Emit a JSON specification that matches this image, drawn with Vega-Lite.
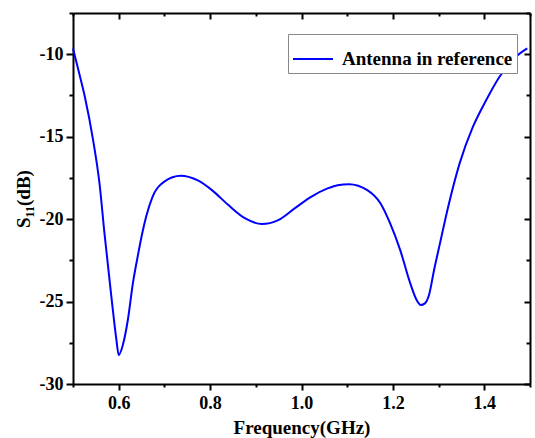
{
  "$schema": "https://vega.github.io/schema/vega-lite/v6.json",
  "width": 457,
  "height": 371,
  "autosize": "none",
  "padding": {"left": 73, "top": 13, "right": 5, "bottom": 54},
  "background": "white",
  "config": {
    "view": {"stroke": null},
    "font": "Liberation Serif",
    "axis": {
      "domainColor": "black", "domainWidth": 2, "tickColor": "black", "tickWidth": 2,
      "labelFont": "Liberation Serif", "labelFontWeight": "bold", "labelColor": "black",
      "titleFont": "Liberation Serif", "titleFontWeight": "bold", "titleColor": "black",
      "grid": false
    }
  },
  "data": {"values": [
    {"f": 0.500, "s": -9.65},
    {"f": 0.513, "s": -11.1},
    {"f": 0.526, "s": -12.59},
    {"f": 0.544, "s": -15.21},
    {"f": 0.558, "s": -17.84},
    {"f": 0.569, "s": -20.9},
    {"f": 0.584, "s": -24.71},
    {"f": 0.595, "s": -27.33},
    {"f": 0.600, "s": -28.24},
    {"f": 0.609, "s": -27.64},
    {"f": 0.620, "s": -26.12},
    {"f": 0.631, "s": -23.9},
    {"f": 0.642, "s": -22.2},
    {"f": 0.652, "s": -20.8},
    {"f": 0.660, "s": -19.86},
    {"f": 0.674, "s": -18.65},
    {"f": 0.699, "s": -17.74},
    {"f": 0.736, "s": -17.37},
    {"f": 0.772, "s": -17.64},
    {"f": 0.804, "s": -18.24},
    {"f": 0.840, "s": -19.15},
    {"f": 0.877, "s": -19.96},
    {"f": 0.913, "s": -20.30},
    {"f": 0.949, "s": -20.06},
    {"f": 0.985, "s": -19.35},
    {"f": 1.021, "s": -18.65},
    {"f": 1.057, "s": -18.14},
    {"f": 1.079, "s": -17.94},
    {"f": 1.104, "s": -17.88},
    {"f": 1.144, "s": -18.24},
    {"f": 1.173, "s": -19.05},
    {"f": 1.194, "s": -20.26},
    {"f": 1.216, "s": -21.88},
    {"f": 1.238, "s": -23.90},
    {"f": 1.252, "s": -24.91},
    {"f": 1.261, "s": -25.21},
    {"f": 1.270, "s": -25.11},
    {"f": 1.279, "s": -24.6},
    {"f": 1.290, "s": -23.1},
    {"f": 1.303, "s": -21.47},
    {"f": 1.321, "s": -19.25},
    {"f": 1.346, "s": -16.62},
    {"f": 1.375, "s": -14.41},
    {"f": 1.404, "s": -12.79},
    {"f": 1.433, "s": -11.38},
    {"f": 1.469, "s": -10.16},
    {"f": 1.494, "s": -9.65}
  ]},
  "resolve": {"axis": {"x": "independent", "y": "independent"}},
  "layer": [
    {
      "mark": {"type": "line", "opacity": 0},
      "encoding": {
        "x": {"field": "f", "type": "quantitative", "scale": {"domain": [0.5, 1.5], "nice": false, "zero": false},
          "axis": {"orient": "bottom", "values": [0.5, 0.7, 0.9, 1.1, 1.3, 1.5], "tickSize": 3, "labels": false, "domain": false, "title": null}},
        "y": {"field": "s", "type": "quantitative", "scale": {"domain": [-30, -7.5], "nice": false, "zero": false},
          "axis": {"orient": "left", "values": [-27.5, -22.5, -17.5, -12.5, -7.5], "tickSize": 4, "labels": false, "domain": false, "title": null}}
      }
    },
    {
      "mark": {"type": "line", "opacity": 0},
      "encoding": {
        "x": {"field": "f", "type": "quantitative",
          "axis": {"orient": "top", "values": [0.6, 0.8, 1.0, 1.2, 1.4], "tickSize": -6, "labels": false, "domain": true, "title": null}},
        "y": {"field": "s", "type": "quantitative",
          "axis": {"orient": "right", "values": [-30, -25, -20, -15, -10], "tickSize": -6, "labels": false, "domain": true, "title": null}}
      }
    },
    {
      "mark": {"type": "line", "opacity": 0},
      "encoding": {
        "x": {"field": "f", "type": "quantitative",
          "axis": {"orient": "top", "values": [0.5, 0.7, 0.9, 1.1, 1.3, 1.5], "tickSize": -3, "labels": false, "domain": false, "title": null}},
        "y": {"field": "s", "type": "quantitative",
          "axis": {"orient": "right", "values": [-27.5, -22.5, -17.5, -12.5, -7.5], "tickSize": -4, "labels": false, "domain": false, "title": null}}
      }
    },
    {
      "mark": {"type": "line", "strokeWidth": 2, "interpolate": "monotone"},
      "encoding": {
        "x": {"field": "f", "type": "quantitative",
          "axis": {"orient": "bottom", "values": [0.6, 0.8, 1.0, 1.2, 1.4], "format": ".1f", "tickSize": 6, "labelFontSize": 18, "labelPadding": 4, "title": "Frequency(GHz)", "titleFontSize": 19, "titlePadding": 6}},
        "y": {"field": "s", "type": "quantitative",
          "axis": {"orient": "left", "values": [-30, -25, -20, -15, -10], "labelExpr": "toString(datum.value)", "tickSize": 7, "labelFontSize": 18, "labelPadding": 3, "title": "S₁₁(dB)", "titleFontSize": 19, "titlePadding": 6}},
        "color": {"datum": "Antenna in reference", "type": "nominal",
          "scale": {"range": ["#0000ff"]},
          "legend": {"title": null, "orient": "none", "legendX": 215, "legendY": 21,
            "symbolType": "stroke", "symbolSize": 1600, "symbolStrokeWidth": 2,
            "labelFont": "Liberation Serif", "labelFontWeight": "bold", "labelFontSize": 19, "labelColor": "black", "labelLimit": 400,
            "labelOffset": 8, "padding": 4, "strokeColor": "#888888", "fillColor": "white"}}
      }
    }
  ]
}
